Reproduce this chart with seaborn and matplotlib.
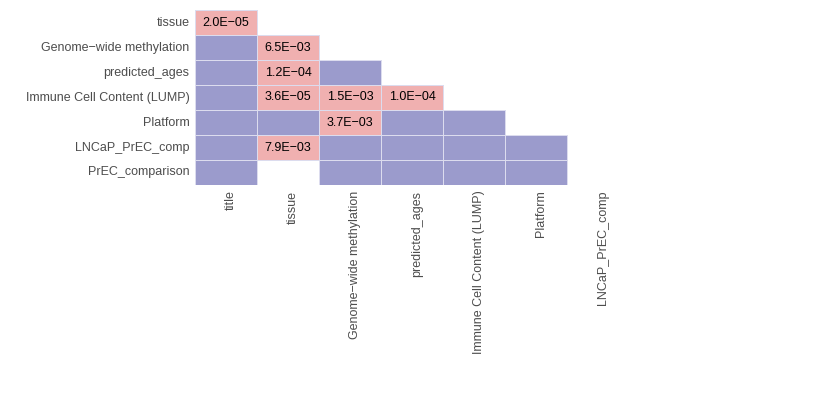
import numpy as np
import pandas as pd
import matplotlib
matplotlib.use("Agg")
import matplotlib.pyplot as plt
import matplotlib.transforms as mtransforms
import seaborn as sns
from matplotlib.colors import ListedColormap, to_rgba

row_labels = ["tissue", "Genome\u2212wide methylation", "predicted_ages",
              "Immune Cell Content (LUMP)", "Platform", "LNCaP_PrEC_comp",
              "PrEC_comparison"]
col_labels = ["title", "tissue", "Genome\u2212wide methylation", "predicted_ages",
              "Immune Cell Content (LUMP)", "Platform", "LNCaP_PrEC_comp"]

# 1 = significant (p-value shown), 0 = not significant, nan = not tested
nan = np.nan
significant = [
    [1, nan, nan, nan, nan, nan, nan],
    [0, 1, nan, nan, nan, nan, nan],
    [0, 1, 0, nan, nan, nan, nan],
    [0, 1, 1, 1, nan, nan, nan],
    [0, 0, 1, 0, 0, nan, nan],
    [0, 1, 0, 0, 0, 0, nan],
    [0, nan, 0, 0, 0, 0, nan],
]
pvalue_text = [
    ["2.0E\u221205", "", "", "", "", "", ""],
    ["", "6.5E\u221203", "", "", "", "", ""],
    ["", "1.2E\u221204", "", "", "", "", ""],
    ["", "3.6E\u221205", "1.5E\u221203", "1.0E\u221204", "", "", ""],
    ["", "", "3.7E\u221203", "", "", "", ""],
    ["", "7.9E\u221203", "", "", "", "", ""],
    ["", "", "", "", "", "", ""],
]

df = pd.DataFrame(significant, index=row_labels, columns=col_labels, dtype=float)
annot = np.array(pvalue_text, dtype=object)
fam = ["Liberation Sans", "DejaVu Sans"]

fig = plt.figure(figsize=(8.34, 3.95), dpi=100)
ax = fig.add_axes([195 / 834, 1 - 185 / 395, 434 / 834, 175 / 395])
cmap = ListedColormap(["#9b9bcc", "#f0b0b0"])
sns.heatmap(df, ax=ax, cmap=cmap, vmin=0, vmax=1, cbar=False,
            annot=annot, fmt="", annot_kws={"fontsize": 9.0, "color": "black", "family": fam},
            linewidths=0.6, linecolor="#dcdcee")
# hide cell borders on empty (untested) cells
mesh = ax.collections[0]
edge = np.array([to_rgba("#dcdcee") if not np.isnan(v) else (1, 1, 1, 0)
                 for v in df.values.ravel()])
mesh.set_edgecolor(edge)

ax.tick_params(length=0, pad=4)
ax.set_xticklabels(col_labels, rotation=90, ha="center", va="top", fontsize=9.0,
                   color="#4d4d4d", family=fam)
ax.set_yticklabels(row_labels, rotation=0, fontsize=9.0, color="#4d4d4d", family=fam)
shift = mtransforms.ScaledTranslation(5 / 100, 0, fig.dpi_scale_trans)
for lab in ax.get_xticklabels():
    lab.set_transform(lab.get_transform() + shift)
ax.set_xlabel("")
ax.set_ylabel("")
fig.savefig("out.png", dpi=100)
